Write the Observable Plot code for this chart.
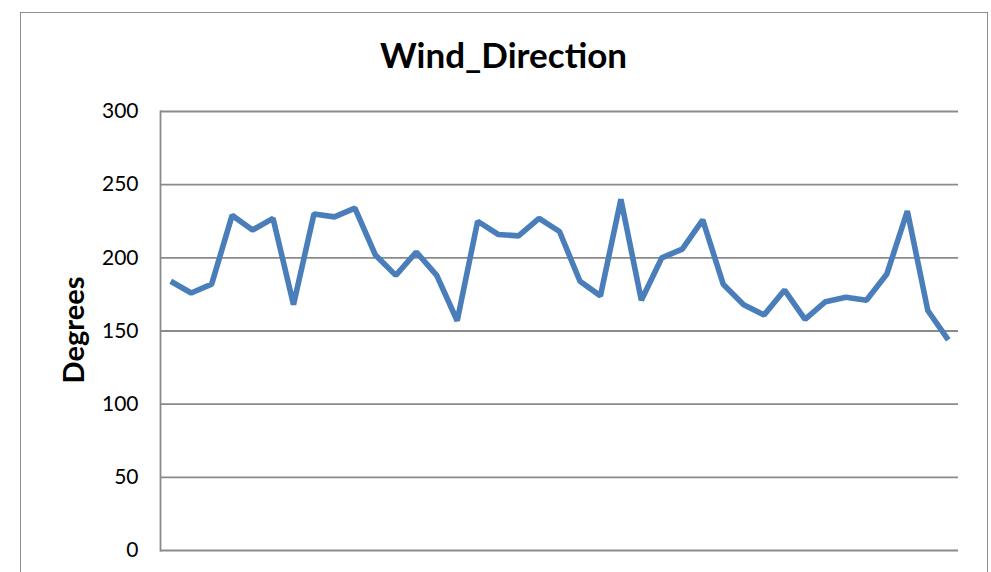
<!DOCTYPE html>
<html>
<head>
<meta charset="utf-8">
<script src="https://cdn.jsdelivr.net/npm/d3@7"></script>
<script src="https://cdn.jsdelivr.net/npm/@observablehq/plot@0.6"></script>
<style>
  html, body { margin: 0; padding: 0; background: #fff; }
  #wrap { position: relative; width: 991px; height: 572px; overflow: hidden; }
  #border { position: absolute; left: 20px; top: 12px; width: 968px; height: 640px; border: 1.5px solid #8c8c8c; box-sizing: border-box; pointer-events: none; }
</style>
</head>
<body>
<div id="wrap"><div id="border"></div></div>
<script>
const title = "Wind_Direction";
const yLabel = "Degrees";
const yTicks = [0, 50, 100, 150, 200, 250, 300];
const observation = d3.range(1, 40);
const degrees = [184, 176, 182, 229, 219, 227, 168, 230, 228, 234,
                 202, 188, 204, 188, 157, 225, 216, 215, 227, 218,
                 184, 174, 240, 171, 200, 206, 226, 182, 168, 161,
                 178, 158, 170, 173, 171, 189, 232, 164, 144];

const data = observation.map((o, i) => ({obs: o, deg: degrees[i]}));
const font = "Lato, 'Open Sans', sans-serif";

const chart = Plot.plot({
  width: 991,
  height: 572,
  marginLeft: 160,
  marginRight: 33,
  marginTop: 111,
  marginBottom: 22,
  style: {background: "transparent", fontFamily: font, color: "#000"},
  x: {type: "point", domain: observation, padding: 0.5, round: false, axis: null},
  y: {domain: [0, 300], ticks: yTicks, label: null},
  marks: [
    Plot.gridY(yTicks, {stroke: "#8a8a8a", strokeOpacity: 1, strokeWidth: 1.8}),
    Plot.frame({anchor: "left", stroke: "#8a8a8a", strokeWidth: 1.8}),
    Plot.axisY(yTicks, {tickSize: 0, tickPadding: 22, fontSize: 21, label: null, fill: "#000"}),
    Plot.line(data, {x: "obs", y: "deg", stroke: "#4a7ebb", strokeWidth: 5.6, strokeLinejoin: "miter", strokeLinecap: "butt"}),
    Plot.text([title], {frameAnchor: "top", dx: -56, dy: -55, text: d => d, fontSize: 35, fontWeight: "bold", fill: "#000", lineAnchor: "middle"}),
    Plot.text([yLabel], {frameAnchor: "left", textAnchor: "middle", dx: -86, dy: -1, rotate: -90, text: d => d, fontSize: 29, fontWeight: "bold", fill: "#000"})
  ]
});
document.getElementById("wrap").prepend(chart);
</script>
</body>
</html>
